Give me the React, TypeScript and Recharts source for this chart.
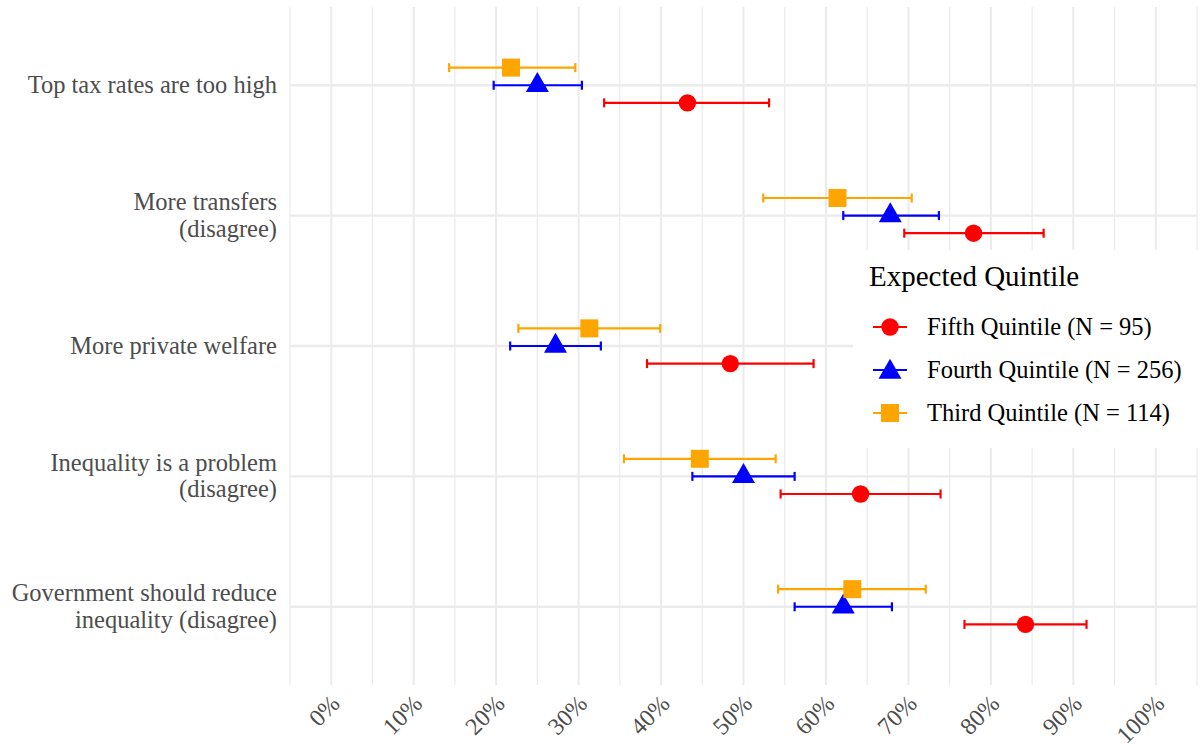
import React from "react"
import { ScatterChart, Scatter, XAxis, YAxis, ErrorBar, ReferenceLine, Legend } from "recharts"

const FONT = '"Liberation Serif", "Times New Roman", serif'

// survey items, top to bottom
const categories = [
  "Top tax rates are too high",
  "More transfers\n(disagree)",
  "More private welfare",
  "Inequality is a problem\n(disagree)",
  "Government should reduce\ninequality (disagree)",
]

const xTicks = [0, 10, 20, 30, 40, 50, 60, 70, 80, 90, 100]
const minorTicks = [-5, 5, 15, 25, 35, 45, 55, 65, 75, 85, 95, 105]

// share (%) with lower / upper bounds, one value per category
const fifthMean = [43.2, 77.9, 48.4, 64.2, 84.2]
const fifthLow = [33.1, 69.5, 38.3, 54.5, 76.8]
const fifthHigh = [53.1, 86.4, 58.5, 73.9, 91.6]

const fourthMean = [25.0, 67.8, 27.2, 50.0, 62.1]
const fourthLow = [19.7, 62.1, 21.7, 43.8, 56.2]
const fourthHigh = [30.4, 73.7, 32.7, 56.2, 68.0]

const thirdMean = [21.8, 61.4, 31.3, 44.7, 63.2]
const thirdLow = [14.3, 52.4, 22.7, 35.5, 54.2]
const thirdHigh = [29.6, 70.4, 39.9, 53.9, 72.1]

type Shape = "circle" | "triangle" | "square"

const series = [
  { name: "Fifth Quintile (N = 95)", color: "#FF0000", shape: "circle" as Shape, dodge: 0.135, mean: fifthMean, low: fifthLow, high: fifthHigh },
  { name: "Fourth Quintile (N = 256)", color: "#0000FF", shape: "triangle" as Shape, dodge: 0, mean: fourthMean, low: fourthLow, high: fourthHigh },
  { name: "Third Quintile (N = 114)", color: "#FFA500", shape: "square" as Shape, dodge: -0.135, mean: thirdMean, low: thirdLow, high: thirdHigh },
]

const buildData = (s: typeof series[number]) =>
  s.mean.map((m, i) => ({
    x: m,
    y: i + s.dodge,
    err: [m - s.low[i], s.high[i] - m],
  }))

const Marker = ({ cx, cy, shape, color }: { cx: number; cy: number; shape: Shape; color: string }) => {
  if (shape === "circle") return <circle cx={cx} cy={cy} r={8.7} fill={color} />
  if (shape === "square") return <rect x={cx - 9} y={cy - 9} width={18} height={18} fill={color} />
  const h = 20
  const w = 23
  return <path d={`M${cx},${cy - (2 * h) / 3}L${cx + w / 2},${cy + h / 3}L${cx - w / 2},${cy + h / 3}Z`} fill={color} />
}

const XTick = (props: any) => {
  const { x, y, payload } = props
  const ax = x - 2
  return (
    <text x={ax} y={y} transform={`rotate(-45, ${ax}, ${y})`} textAnchor="end" dy="0.71em"
      fill="#4D4D4D" fontSize={24} fontFamily={FONT}>
      {payload.value}%
    </text>
  )
}

const YTick = (props: any) => {
  const { x, y, payload } = props
  const label = categories[Math.round(payload.value)] ?? ""
  const lines = label.split("\n")
  const lh = 26.5
  return (
    <text x={x} y={y} textAnchor="end" fill="#4D4D4D" fontSize={24.5} fontFamily={FONT}>
      {lines.map((l, i) => (
        <tspan key={i} x={x} y={y + (i - (lines.length - 1) / 2) * lh} dy="0.32em">{l}</tspan>
      ))}
    </text>
  )
}

const LegendBox = () => (
  <div style={{ background: "#fff", width: 346, height: 198, fontFamily: FONT, color: "#000", boxSizing: "border-box", padding: "12px 0 0 16px" }}>
    <div style={{ fontSize: 29, lineHeight: "29px", whiteSpace: "nowrap" }}>Expected Quintile</div>
    <div style={{ marginTop: 14 }}>
      {series.map((s) => (
        <div key={s.name} style={{ display: "flex", alignItems: "center", height: 43, paddingLeft: 4, whiteSpace: "nowrap" }}>
          <svg width={34} height={24} style={{ marginRight: 20, flexShrink: 0 }}>
            <line x1={0} x2={34} y1={12} y2={12} stroke={s.color} strokeWidth={2.2} />
            <Marker cx={17} cy={s.shape === "triangle" ? 14 : 12} shape={s.shape} color={s.color} />
          </svg>
          <span style={{ fontSize: 24.5, lineHeight: "28px" }}>{s.name}</span>
        </div>
      ))}
    </div>
  </div>
)

export default function App() {
  return (
    <div style={{ position: "absolute", left: 0, top: 0, width: 1200, height: 749, background: "#fff", fontFamily: FONT }}>
      <ScatterChart width={1200} height={749} margin={{ top: 7, right: 3, left: 0, bottom: 0 }}>
        {minorTicks.map((v) => (
          <ReferenceLine key={`mn${v}`} x={v} stroke="#EBEBEB" strokeWidth={1.2} />
        ))}
        {xTicks.map((v) => (
          <ReferenceLine key={`mj${v}`} x={v} stroke="#EBEBEB" strokeWidth={2} />
        ))}
        {categories.map((_, i) => (
          <ReferenceLine key={`h${i}`} y={i} stroke="#EBEBEB" strokeWidth={2.4} />
        ))}
        <XAxis type="number" dataKey="x" domain={[-5, 105]} ticks={xTicks} interval={0}
          axisLine={false} tickLine={false} tickSize={0} tickMargin={8} height={64} tick={<XTick />} />
        <YAxis type="number" dataKey="y" domain={[-0.6, 4.6]} reversed ticks={[0, 1, 2, 3, 4]} interval={0}
          axisLine={false} tickLine={false} tickSize={0} tickMargin={13} width={290} tick={<YTick />} />
        <Legend layout="vertical" align="center" verticalAlign="middle" content={<LegendBox />}
          wrapperStyle={{ left: 853, top: 250, width: 346, height: 198 }} />
        {series.map((s) => (
          <Scatter key={s.name} name={s.name} data={buildData(s)} isAnimationActive={false}
            shape={(p: any) => <Marker cx={p.cx} cy={p.cy} shape={s.shape} color={s.color} />}>
            <ErrorBar dataKey="err" direction="x" width={4.5} stroke={s.color} strokeWidth={2.2} />
          </Scatter>
        ))}
      </ScatterChart>
    </div>
  )
}
